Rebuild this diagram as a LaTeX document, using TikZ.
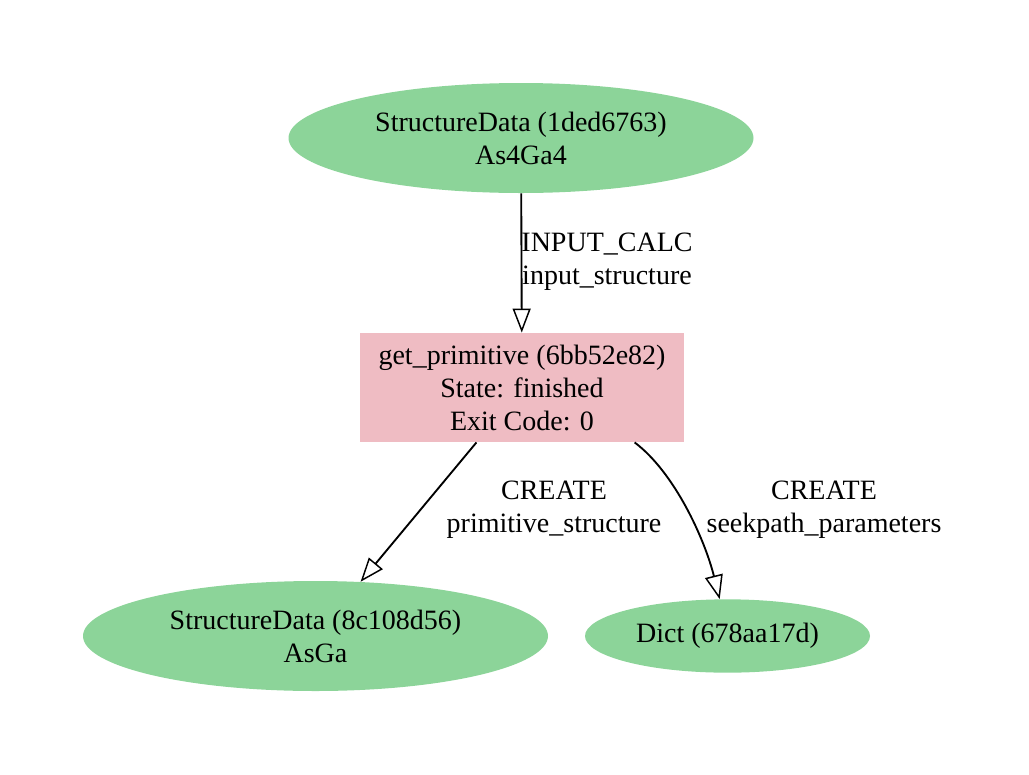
\documentclass[tikz,border=0pt]{standalone}
\usepackage{fontspec}
\setmainfont{Liberation Serif}
\usepackage{tikz}
\usetikzlibrary{calc, shapes, arrows.meta}
\definecolor{datagreen}{HTML}{8CD499}
\definecolor{calcpink}{HTML}{EFBCC3}

\begin{document}
\begin{tikzpicture}[x=0.75pt,y=-0.75pt]
\tikzstyle{data}=[ellipse,fill=datagreen,inner sep=0pt,align=center]
\tikzstyle{calc}=[rectangle,fill=calcpink,inner sep=0pt,align=center]
\tikzstyle{link}=[line width=1.4pt,-{Triangle[open,length=18pt,width=13.5pt,line width=1.1pt]}]
\tikzstyle{lbl}=[align=center,inner sep=0pt]
\useasboundingbox (0,0) rectangle (1029,775);
\fontsize{21}{24.75}\selectfont
\node[data,minimum width=348.75pt,minimum height=82.5pt] (D_0) at (521,138) {StructureData (1ded6763)\\As4Ga4};
\node[calc,minimum width=243pt,minimum height=82pt] (C_0) at (522,387.5) {get\_primitive (6bb52e82)\\State: finished\\Exit Code: 0};
\node[data,minimum width=348.75pt,minimum height=82.5pt] (D_1) at (315.5,636) {StructureData (8c108d56)\\AsGa};
\node[data,minimum width=213.75pt,minimum height=55pt] (D_2) at (727.5,636) {Dict (678aa17d)};
\node[lbl] (L_0) at (607,262) {INPUT\_CALC\\input\_structure};
\node[lbl] (L_1) at (554,510) {CREATE\\primitive\_structure};
\node[lbl] (L_2) at (824,510) {CREATE\\seekpath\_parameters};
\draw[link] (D_0) -- (C_0);
\draw[link] (C_0) -- (D_1);
\draw[link] (C_0.-26) .. controls +(40,30) and +(-15,-60) .. (D_2.102);
\end{tikzpicture}
\end{document}
